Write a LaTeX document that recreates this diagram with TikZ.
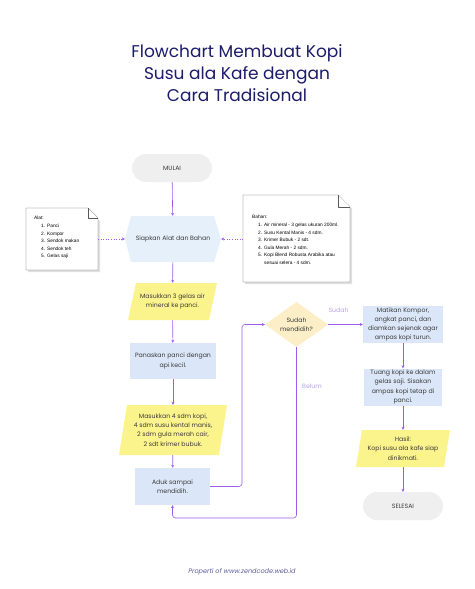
\documentclass[tikz,border=0pt]{standalone}
\usepackage{fontspec}
\setmainfont{Poppins}
\newfontfamily\notefont{Liberation Sans}
\usetikzlibrary{arrows.meta,calc}
\definecolor{titlec}{HTML}{1C1C6B}
\definecolor{txtc}{HTML}{3A3A3A}
\definecolor{linec}{HTML}{9D5CF0}
\definecolor{labc}{HTML}{B9A3E6}
\definecolor{pillc}{HTML}{EFEFEF}
\definecolor{hexc}{HTML}{E6F0FB}
\definecolor{boxc}{HTML}{DBE7F8}
\definecolor{yelc}{HTML}{FBF38C}
\definecolor{diac}{HTML}{FCEFC7}
\definecolor{footc}{HTML}{5E5E9E}
\begin{document}
\begin{tikzpicture}[x=1pt,y=-1pt,
  txt/.style={text=txtc,font=\fontsize{6.2}{9.2}\selectfont,align=center,inner sep=0pt},
  pill/.style={txt,fill=pillc,rounded corners=14pt,minimum width=80pt,minimum height=28pt},
  box/.style={txt,fill=boxc},
  conn/.style={draw=linec,line width=0.6pt,-{Stealth[length=3pt,width=3pt]}},
  dconn/.style={conn,dotted},
  lab/.style={text=labc,font=\fontsize{6.2}{8}\selectfont},
  notetxt/.style={font=\notefont\fontsize{4.8}{7.6}\selectfont,text=black,align=left,anchor=north west,inner sep=0pt},
  noteshape/.style={fill=white,draw=black!65,line width=0.4pt,line join=round}
]
\useasboundingbox[fill=white] (0,0) rectangle (474,589);

% title
\node[text=titlec,font=\fontsize{17}{22}\selectfont,align=center] (title) at (237,73)
  {Flowchart Membuat Kopi\\Susu ala Kafe dengan\\Cara Tradisional};

% start
\node[pill] (start) at (172,168) {MULAI};

% preparation hexagon
\fill[hexc] (125,239) -- (131,216) -- (214,216) -- (221,239) -- (214,262) -- (131,262) -- cycle;
\node[txt,minimum width=96pt,minimum height=46pt] (prep) at (173,239) {Siapkan Alat dan Bahan};

% notes
\fill[black!12] (28,210) -- (89,210) -- (100,221) -- (100,272) -- (28,272) -- cycle;
\draw[noteshape] (26,208) -- (88,208) -- (98,218) -- (98,270) -- (26,270) -- cycle;
\draw[noteshape] (88,208) -- (88,218) -- (98,218);
\node[notetxt] (alat) at (34,216) {Alat:\\[1.5pt]
  \begin{tabular}{@{\hspace{7pt}}l@{\hspace{2pt}}l@{}}1.&Panci\\2.&Kompor\\3.&Sendok makan\\4.&Sendok teh\\5.&Gelas saji\end{tabular}};

\fill[black!12] (245,197) -- (340,197) -- (352,209) -- (352,284) -- (245,284) -- cycle;
\draw[noteshape] (243,195) -- (338,195) -- (350,207) -- (350,282) -- (243,282) -- cycle;
\draw[noteshape] (338,195) -- (338,207) -- (350,207);
\node[notetxt] (bahan) at (252,215) {Bahan:\\[1.5pt]
  \begin{tabular}{@{\hspace{6pt}}l@{\hspace{2pt}}l@{}}1.&Air mineral - 3 gelas ukuran 200ml.\\2.&Susu Kental Manis - 4 sdm.\\3.&Krimer Bubuk - 2 sdt.\\4.&Gula Merah - 2 sdm.\\5.&Kopi Blend Robusta Arabika atau\\&sesuai selera - 4 sdm.\end{tabular}};

\coordinate (alatR) at (98,239);
\coordinate (bahanL) at (243,239);

% step 1 parallelogram
\fill[yelc] (136,283) -- (217,283) -- (209,320) -- (128,320) -- cycle;
\node[txt,minimum width=81pt,minimum height=37pt] (p1) at (172.5,301.5) {Masukkan 3 gelas air\\mineral ke panci.};

% heat
\node[box,minimum width=86pt,minimum height=36pt] (heat) at (173,361) {Panaskan panci dengan\\api kecil.};

% step 3 parallelogram
\fill[yelc] (127,405) -- (227,405) -- (219,455) -- (119,455) -- cycle;
\node[txt,minimum width=100pt,minimum height=50pt] (p2) at (173,430) {Masukkan 4 sdm kopi,\\4 sdm susu kental manis,\\2 sdm gula merah cair,\\2 sdt krimer bubuk.};

% stir
\node[box,minimum width=75pt,minimum height=37pt] (stir) at (172.5,486.5) {Aduk sampai\\mendidih.};

% decision
\fill[diac] (265,324.5) -- (296.5,302) -- (328,324.5) -- (296.5,347) -- cycle;
\node[txt,minimum width=63pt,minimum height=45pt] (dec) at (296.5,324.5) {Sudah\\mendidih?};

% right column
\node[box,minimum width=80pt,minimum height=37pt] (off) at (403,324.5) {Matikan Kompor,\\angkat panci, dan\\diamkan sejenak agar\\ampas kopi turun.};
\node[box,minimum width=78pt,minimum height=37pt] (pour) at (403,387) {Tuang kopi ke dalam\\gelas saji. Sisakan\\ampas kopi tetap di\\panci.};
\fill[yelc] (362,430) -- (450,430) -- (444,467) -- (356,467) -- cycle;
\node[txt,minimum width=88pt,minimum height=37pt] (res) at (403,448.5) {Hasil:\\Kopi susu ala kafe siap\\dinikmati.};
\node[pill] (end) at (403,506) {SELESAI};

% footer
\node[text=footc,font=\fontsize{6.5}{8}\selectfont\itshape] (foot) at (242,572) {Properti of www.zendcode.web.id};

% connectors
\draw[conn] (start) -- (prep);
\draw[dconn] (alatR) -- (prep.west);
\draw[dconn] (bahanL) -- (prep.east);
\draw[conn] (prep) -- (p1);
\draw[conn] (p1) -- (heat);
\draw[conn] (heat) -- (p2);
\draw[conn] (p2) -- (stir);
\draw[conn,rounded corners=3pt] (stir.east) -- (242,486.5) -- (242,324.5) -- (dec.west);
\draw[conn] (dec.east) -- node[lab,pos=0.3,above=8pt] {Sudah} (off.west);
\draw[conn,rounded corners=3pt] (dec.south) -- (296.5,518) -- (172.5,518) -- (stir.south);
\node[lab] (belum) at (312,386) {Belum};
\draw[conn] (off) -- (pour);
\draw[conn] (pour) -- (res);
\draw[conn] (res) -- (end);
\end{tikzpicture}
\end{document}
